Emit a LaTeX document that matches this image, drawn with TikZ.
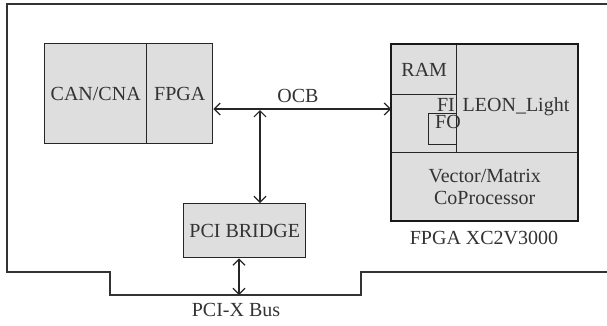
\documentclass[tikz,border=0pt]{standalone}
\usepackage{fontspec}
\setmainfont{Liberation Serif}
\usetikzlibrary{arrows.meta}
\begin{document}
\begin{tikzpicture}[x=1pt,y=-1pt,
  blk/.style={draw=black!85, fill=black!13, line width=1.4pt, inner sep=0pt, anchor=north west, font=\fontsize{20}{22}\selectfont, text=black!80},
  lbl/.style={inner sep=0pt, font=\fontsize{20}{22}\selectfont, text=black!80},
  arr/.style={{Straight Barb[length=6pt,width=12pt]}-{Straight Barb[length=6pt,width=12pt]}, line width=1.2pt, draw=black!85},
  board/.style={draw=black!80, line width=1.1pt}]
\useasboundingbox (0,0) rectangle (607,325);
% board outline
\draw[board] (607,4) -- (7,4) -- (7,272) -- (110,272) -- (110,295) -- (361,295) -- (361,272) -- (607,272);
% left module
\node[blk, minimum width=102pt, minimum height=100pt] (can) at (44,43) {};
\node[lbl] at (can.center) {CAN/CNA};
\node[blk, minimum width=66pt, minimum height=100pt] (fpga) at (146,43) {};
\node[lbl] at (fpga.center) {FPGA};
% bridge
\node[blk, minimum width=122pt, minimum height=54pt] (bridge) at (183,203) {};
\node[lbl] at (bridge.center) {PCI BRIDGE};
% right FPGA
\node[blk, minimum width=65pt, minimum height=50pt] (ram) at (391,44) {};
\node[lbl] at (ram.center) {RAM};
\node[blk, minimum width=65pt, minimum height=58pt] (fifo) at (391,94) {};
\node[blk, minimum width=121pt, minimum height=108pt] (leon) at (456,44) {};
\node[lbl] at (516,107) {LEON\_Light};
\node[blk, line width=1.1pt, minimum width=28pt, minimum height=31pt] (fbox) at (428,113) {};
\node[lbl] at (446,105) {FI};
\node[lbl] at (448,122) {FO};
\node[blk, minimum width=186pt, minimum height=68pt, align=center] (vec) at (391,152) {};
\node[lbl, align=center] at (vec.center) {Vector/Matrix\\CoProcessor};
\draw[draw=black!90, line width=2pt] (ram.north west) rectangle (vec.south east);
\node[lbl] (chip) at (484,238) {FPGA XC2V3000};
% connectors
\coordinate (ocb) at (0,109);
\coordinate (tap) at (260,110);
\draw[arr] (fpga.east |- ocb) -- (fifo.west |- ocb);
\node[lbl] at (298,96) {OCB};
\draw[arr] (tap) -- (tap |- bridge.north);
\coordinate (bus) at (239,295);
\draw[arr] (bus |- bridge.south) -- (bus);
\node[lbl] at (236,310) {PCI-X Bus};
\end{tikzpicture}
\end{document}
